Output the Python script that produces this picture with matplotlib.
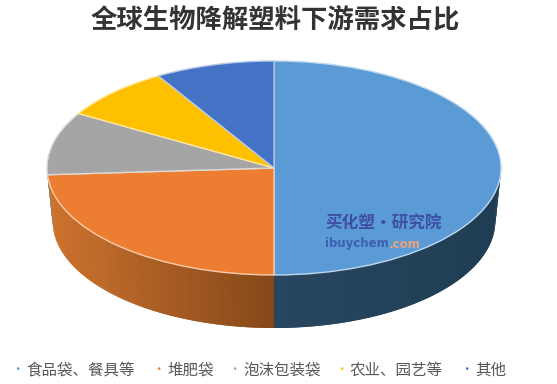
# -*- coding: utf-8 -*-
import numpy as np
import matplotlib
matplotlib.use("Agg")
import matplotlib.pyplot as plt
from matplotlib.colors import to_rgb

plt.rcParams["font.family"] = ["Noto Sans CJK SC", "DejaVu Sans"]

TITLE = "全球生物降解塑料下游需求占比"
categories = ["食品袋、餐具等", "堆肥袋", "泡沫包装袋", "农业、园艺等", "其他"]
shares = [50, 24, 9.5, 8, 8.5]
colors = ["#5B9BD5", "#ED7D31", "#A5A5A5", "#FFC000", "#4472C4"]
edges = ["#BDD7EE", "#F8CBAD", "#DBDBDB", "#FFE699", "#B4C7E7"]
# side colour at the centre of the pie and at its outer end
side_inner = ["#28465F", "#854719", "#5A5A5A", "#8F6B00", "#294576"]
side_outer = ["#1F3D52", "#CC732E", "#8A8A8A", "#C99A00", "#38609F"]
legend_x = [17, 158, 234, 341, 466]

W, H = 557, 384
CX, CY, RX, RY, DEPTH = 274, 168, 227, 107, 53


def side_wall(ax, start, end, inner, outer):
    # only the front half of the rim is visible
    lo, hi = max(start, -180), min(end, 0)
    if lo >= hi:
        return
    t = np.radians(np.linspace(lo, hi, 80))
    d = DEPTH / RY
    for i in range(len(t) - 1):
        f = abs(np.cos(t[i]))
        c = np.array(to_rgb(inner)) * (1 - f) + np.array(to_rgb(outer)) * f
        # overlap the next strip so no seams show
        seg = t[i:i + 3]
        top = np.column_stack([np.cos(seg), np.sin(seg)])
        low = np.column_stack([0.975 * np.cos(seg), np.sin(seg) - d])
        ax.fill(*np.vstack([top, low[::-1]]).T, color=c, lw=0, zorder=1)


fig = plt.figure(figsize=(W / 100, H / 100), dpi=100)
ax = fig.add_axes([0, 0, 1, 1])

wedges, _ = ax.pie(shares, colors=colors, startangle=90, counterclock=False, radius=1,
                   wedgeprops={"linewidth": 1.0, "zorder": 3})
for w, e in zip(wedges, edges):
    w.set_edgecolor(e)
ax.set_aspect("auto")
ax.set_xlim(-CX / RX, (W - CX) / RX)
ax.set_ylim((CY - H) / RY, CY / RY)

for w, inner, outer in zip(wedges, side_inner, side_outer):
    # wedge angles may come back in either turn of the circle
    side_wall(ax, w.theta1 - 360, w.theta2 - 360, inner, outer)
    side_wall(ax, w.theta1, w.theta2, inner, outer)

fig.text(275 / W, 1 - 20 / H, TITLE, ha="center", va="center", fontsize=19, fontweight="bold", color="#333333")

# legend
for x, name, c in zip(legend_x, categories, colors):
    fig.text(x / W, 1 - 369 / H, "•", ha="center", va="center", fontsize=9, color=c)
    fig.text((x + 9) / W, 1 - 370 / H, name, ha="left", va="center", fontsize=11.2, color="#595959")

# watermark
fig.text(384 / W, 1 - 224 / H, "买化塑·研究院", ha="center", va="center", fontsize=12,
         fontweight="bold", style="italic", color="#3F4FA5")
fig.text(325 / W, 1 - 244 / H, "ibuychem", ha="left", va="center", fontsize=8.5,
         fontweight="bold", color="#3F5FB0", family="DejaVu Sans")
fig.text(389 / W, 1 - 244 / H, ".com", ha="left", va="center", fontsize=8.5,
         fontweight="bold", color="#E9A27A", family="DejaVu Sans")

fig.savefig("out.png", dpi=100)
